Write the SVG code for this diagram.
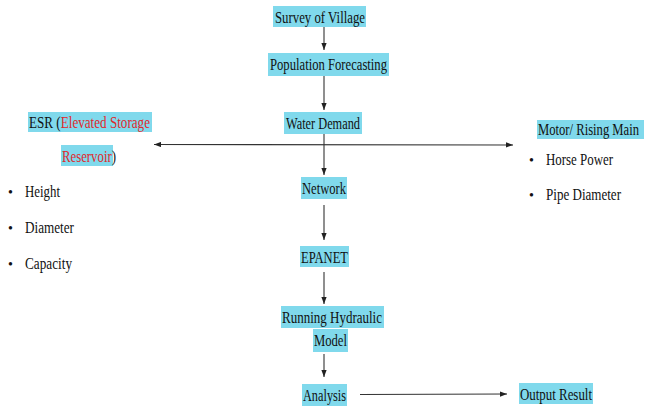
<svg xmlns="http://www.w3.org/2000/svg" width="645" height="408" viewBox="0 0 645 408">
<defs>
<marker id="ah" viewBox="0 0 8 6" refX="8" refY="3" markerWidth="7" markerHeight="5.5" orient="auto" markerUnits="userSpaceOnUse">
<path d="M0,0 L8,3 L0,6 Z" fill="#222"/>
</marker>
<marker id="ahs" viewBox="0 0 8 6" refX="0" refY="3" markerWidth="7" markerHeight="5.5" orient="auto" markerUnits="userSpaceOnUse">
<path d="M8,0 L0,3 L8,6 Z" fill="#222"/>
</marker>
<style>
.hl{fill:#80D9EC}
text{font-family:'Liberation Serif','Times New Roman',Times,serif;font-size:17px;fill:#111}
.red{fill:#E0282B}
.c{stroke:#333;stroke-width:1.1;fill:none}
.a{marker-end:url(#ah)}
</style>
</defs>
<rect width="645" height="408" fill="#fff"/>
<g id="connectors">
<line class="c a" x1="324" y1="27" x2="324" y2="50"/>
<line class="c a" x1="324" y1="76" x2="324" y2="110"/>
<line class="c" x1="324" y1="134" x2="324" y2="145"/>
<line class="c a" x1="154" y1="144.5" x2="513" y2="145" style="marker-start:url(#ahs)"/>
<line class="c a" x1="324" y1="145" x2="324" y2="175"/>
<line class="c a" x1="324" y1="205" x2="324" y2="240"/>
<line class="c a" x1="324" y1="272" x2="324" y2="304"/>
<line class="c a" x1="324" y1="354" x2="324" y2="377"/>
<line class="c a" x1="360" y1="394.5" x2="507" y2="394"/>
</g>
<g id="survey">
<rect class="hl" x="273" y="6" width="93" height="21"/>
<text x="275" y="23" textLength="90" lengthAdjust="spacingAndGlyphs">Survey of Village</text>
</g>
<g id="population">
<rect class="hl" x="268" y="53" width="121" height="23"/>
<text x="270" y="70" textLength="117" lengthAdjust="spacingAndGlyphs">Population Forecasting</text>
</g>
<g id="water-demand">
<rect class="hl" x="284" y="112" width="78" height="22"/>
<text x="286" y="129" textLength="74" lengthAdjust="spacingAndGlyphs">Water Demand</text>
</g>
<g id="network">
<rect class="hl" x="301" y="177" width="46" height="22"/>
<text x="302" y="194" textLength="44" lengthAdjust="spacingAndGlyphs">Network</text>
</g>
<g id="epanet">
<rect class="hl" x="300" y="246" width="49" height="21"/>
<text x="301" y="263" textLength="47" lengthAdjust="spacingAndGlyphs">EPANET</text>
</g>
<g id="running">
<rect class="hl" x="281" y="306" width="103" height="22"/>
<text x="282" y="323" textLength="100" lengthAdjust="spacingAndGlyphs">Running Hydraulic</text>
<rect class="hl" x="313" y="329" width="35" height="23"/>
<text x="314" y="346" textLength="33" lengthAdjust="spacingAndGlyphs">Model</text>
</g>
<g id="analysis">
<rect class="hl" x="302" y="384" width="45" height="22"/>
<text x="303" y="401" textLength="43" lengthAdjust="spacingAndGlyphs">Analysis</text>
</g>
<g id="output">
<rect class="hl" x="519" y="383" width="74" height="21"/>
<text x="520" y="400" textLength="72" lengthAdjust="spacingAndGlyphs">Output Result</text>
</g>
<g id="esr">
<rect class="hl" x="28" y="112" width="124" height="20"/>
<text x="29" y="128" textLength="121" lengthAdjust="spacingAndGlyphs">ESR (<tspan class="red">Elevated Storage</tspan></text>
<rect class="hl" x="61" y="145" width="52" height="21"/>
<text x="62" y="162" textLength="54" lengthAdjust="spacingAndGlyphs"><tspan class="red">Reservoir</tspan>)</text>
<text x="8" y="197" style="font-size:14px">•</text>
<text x="25" y="197" textLength="35" lengthAdjust="spacingAndGlyphs">Height</text>
<text x="8" y="233" style="font-size:14px">•</text>
<text x="25" y="233" textLength="49" lengthAdjust="spacingAndGlyphs">Diameter</text>
<text x="8" y="269" style="font-size:14px">•</text>
<text x="25" y="269" textLength="47" lengthAdjust="spacingAndGlyphs">Capacity</text>
</g>
<g id="motor">
<rect class="hl" x="537" y="120" width="107" height="19"/>
<text x="538" y="135" textLength="101" lengthAdjust="spacingAndGlyphs">Motor/ Rising Main</text>
<text x="529" y="165" style="font-size:14px">•</text>
<text x="546" y="165" textLength="67" lengthAdjust="spacingAndGlyphs">Horse Power</text>
<text x="529" y="200" style="font-size:14px">•</text>
<text x="546" y="200" textLength="75" lengthAdjust="spacingAndGlyphs">Pipe Diameter</text>
</g>
</svg>
